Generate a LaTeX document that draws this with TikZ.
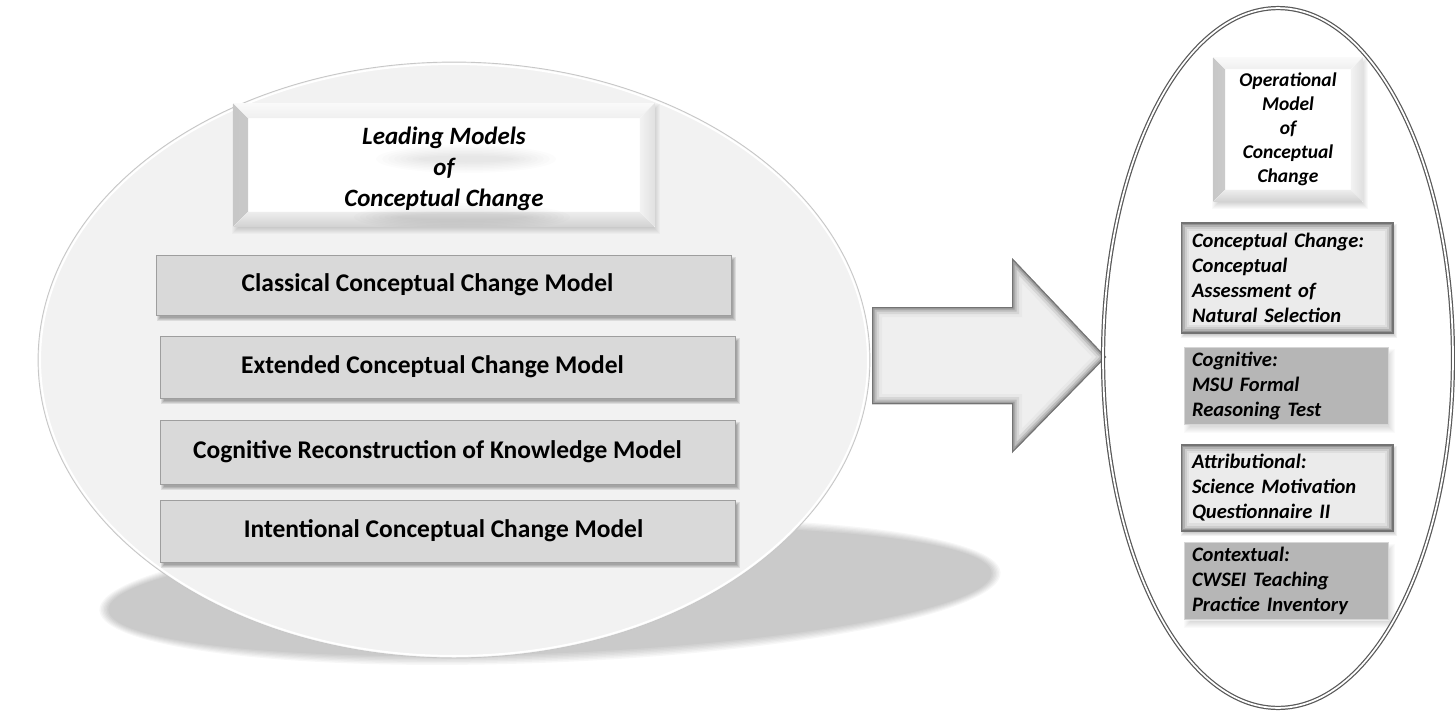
\documentclass[tikz,border=0pt]{standalone}
\usepackage{fontspec}
\setmainfont{Carlito}
\definecolor{ovalfill}{HTML}{F2F2F2}
\definecolor{modelfill}{HTML}{D9D9D9}
\definecolor{midgray}{HTML}{B6B6B6}
\definecolor{arrowfill}{HTML}{EFEFEF}
\pgfdeclarelayer{back}
\pgfdeclarelayer{shade}
\pgfsetlayers{back,shade,main}

% soft drop shadow behind a rectangular node: node, dx, dy, opacity per layer
\newcommand\boxshadow[4]{%
  \foreach \e in {0,1,2,3}{%
    \fill[black,opacity=#4]
      ([shift={(#2+1-\e,#3+1-\e)}]#1.north west) rectangle
      ([shift={(#2-1+\e,#3-1+\e)}]#1.south east);}}
% wider glow for the bevelled title boxes
\newcommand\boxglow[4]{%
  \foreach \e in {0,1,2,3,4,5,6}{%
    \fill[black,opacity=#4]
      ([shift={(#2+3-\e,#3+3-\e)}]#1.north west) rectangle
      ([shift={(#2-3+\e,#3-3+\e)}]#1.south east);}}

% the four bevel faces of a raised title plate, #1 = bevel depth
\newcommand\bevelfaces[1]{%
  \fill[left color=black!22,right color=black!3]
    (path picture bounding box.north west) -- (path picture bounding box.south west)
    -- ([shift={(#1,-#1)}]path picture bounding box.south west)
    -- ([shift={(#1,#1)}]path picture bounding box.north west) -- cycle;
  \fill[top color=black!2,bottom color=black!6]
    (path picture bounding box.north west) -- (path picture bounding box.north east)
    -- ([shift={(-#1,#1)}]path picture bounding box.north east)
    -- ([shift={(#1,#1)}]path picture bounding box.north west) -- cycle;
  \fill[left color=black!5,right color=black!12]
    (path picture bounding box.north east) -- (path picture bounding box.south east)
    -- ([shift={(-#1,-#1)}]path picture bounding box.south east)
    -- ([shift={(-#1,#1)}]path picture bounding box.north east) -- cycle;
  \fill[top color=black!7,bottom color=black!18]
    (path picture bounding box.south west) -- (path picture bounding box.south east)
    -- ([shift={(-#1,-#1)}]path picture bounding box.south east)
    -- ([shift={(#1,-#1)}]path picture bounding box.south west) -- cycle;}

% blurred smudges under the lines of the left title
\newcommand\titlesmudge{%
  \foreach \k in {0,1,2,3,4,5,6,7}{%
    \fill[black,opacity=0.012] ([shift={(22,-6)}]path picture bounding box.center)
      ellipse [x radius={(90-\k*6)*0.02cm}, y radius={(14-\k*1.5)*0.02cm}];
    \fill[black,opacity=0.012] ([shift={(18,52)}]path picture bounding box.center)
      ellipse [x radius={(108-\k*6)*0.02cm}, y radius={(14-\k*1.5)*0.02cm}];}}

\def\arrowpath{(872,307) -- (1012,307) -- (1012,258) -- (1106,357) -- (1012,453) -- (1012,404) -- (872,404) -- cycle}

\begin{document}
\begin{tikzpicture}[x=0.02cm,y=-0.02cm,
  every node/.style={inner sep=0pt, outer sep=0pt},
  bevelbox/.style={fill=white, align=center, path picture={\bevelfaces{#1}}},
  leadbox/.style={fill=white, align=center, path picture={\bevelfaces{#1}\titlesmudge}},
  modelbox/.style={draw=black!38, line width=0.5pt, fill=modelfill,
    minimum width=11.5cm, font=\fontsize{14.5}{17}\selectfont\bfseries},
  measurebox/.style={align=left, minimum height=#1,
    font=\fontsize{11.7}{14.2}\selectfont\bfseries\itshape},
  lightbox/.style={measurebox=#1, draw=black!55, line width=0.6pt, fill=black!8,
    text width=3.8cm, inner xsep=0.22cm,
    path picture={
      \foreach \w/\c in {16/13,11/20,7/30,4/42,2/58}{
        \draw[line width=\w*0.569pt, black!\c]
          (path picture bounding box.north west) rectangle (path picture bounding box.south east);}
    }},
  darkbox/.style={measurebox=#1, fill=midgray,
    text width=3.78cm, inner xsep=0.16cm,
    path picture={
      \draw[white, opacity=0.45, line width=1.4pt]
        (path picture bounding box.north west) rectangle (path picture bounding box.south east);
    }},
]
\useasboundingbox (0,0) rectangle (1455,714);

% ---------- background, left oval with its ground shadow, right oval ----------
\begin{pgfonlayer}{back}
  \fill[white] (0,0) rectangle (1455,714);
  \begin{scope}[shift={(550,591.5)}, rotate=2.4]
    \foreach \k in {0,1,2,3,4,5,6}{
      \fill[black, opacity=0.032] (0,0) ellipse [x radius={(451-\k*1.5)*0.02cm}, y radius={(71-\k*1.5)*0.02cm}];}
  \end{scope}
  \fill[ovalfill] (454,360) ellipse [x radius=8.32cm, y radius=5.96cm];
  \draw[black!22, line width=0.5pt] (454,360) ellipse [x radius=8.32cm, y radius=5.96cm];
  \draw[white, line width=1.1pt] (454,360) ellipse [x radius=8.28cm, y radius=5.92cm];
  \fill[white] (1278,358) ellipse [x radius=3.5cm, y radius=7.0cm];
\end{pgfonlayer}

% ---------- left panel ----------
\node[leadbox=15, minimum width=8.44cm, minimum height=2.48cm,
      font=\fontsize{14.2}{17.6}\selectfont\bfseries\itshape] (lead) at (444,165)
  {\rule{0pt}{14pt}Leading Models\\of\\Conceptual Change};

\node[modelbox, minimum height=1.2cm]  (m1) at (443.5,285) {Classical Conceptual Change Model\kern0.64cm};
\node[modelbox, minimum height=1.24cm] (m2) at (447.5,367) {Extended Conceptual Change Model\kern0.6cm};
\node[modelbox, minimum height=1.28cm] (m3) at (447.5,452) {Cognitive Reconstruction of Knowledge Model\kern0.4cm};
\node[modelbox, minimum height=1.24cm] (m4) at (447.5,531) {Intentional Conceptual Change Model\kern0.16cm};

% ---------- arrow ----------
\fill[arrowfill] \arrowpath;
\begin{scope}
  \clip \arrowpath;
  \foreach \w/\c in {20/9,14/16,9/26,5/38,2/55}{
    \draw[line width=\w*0.569pt, black!\c, line join=miter] \arrowpath;}
\end{scope}

% ---------- right oval ----------
\draw[black!65, line width=0.7pt, double=white, double distance=1pt]
  (1278,358) ellipse [x radius=3.5cm, y radius=7.0cm];

\node[bevelbox=12, minimum width=3cm, minimum height=2.9cm,
      font=\fontsize{11.1}{13.7}\selectfont\bfseries\itshape] (oper) at (1288,129.5)
  {Operational\\Model\\of\\Conceptual\\Change};

\node[lightbox=2.2cm, minimum width=4.24cm] (cc) at (1287,278)
  {Conceptual Change:\\Conceptual\\Assessment of\\Natural Selection};
\node[darkbox=1.56cm, minimum width=4.1cm] (cog) at (1286.5,386)
  {Cognitive:\\MSU Formal\\Reasoning Test};
\node[lightbox=1.72cm, minimum width=4.24cm] (att) at (1287,488)
  {Attributional:\\Science Motivation\\Questionnaire II};
\node[darkbox=1.56cm, minimum width=4.1cm] (ctx) at (1286.5,581)
  {Contextual:\\CWSEI Teaching\\Practice Inventory};

% ---------- shadows under the boxes ----------
\begin{pgfonlayer}{shade}
  \boxglow{lead}{2}{4}{0.025}
  \boxglow{oper}{2}{4}{0.025}
  \foreach \n in {m1,m2,m3,m4}{\boxshadow{\n}{3}{4}{0.09}}
  \foreach \n in {cc,att}{\boxshadow{\n}{2}{3}{0.05}}
  \foreach \n in {cog,ctx}{\boxglow{\n}{3}{5}{0.02}}
\end{pgfonlayer}
\end{tikzpicture}
\end{document}
